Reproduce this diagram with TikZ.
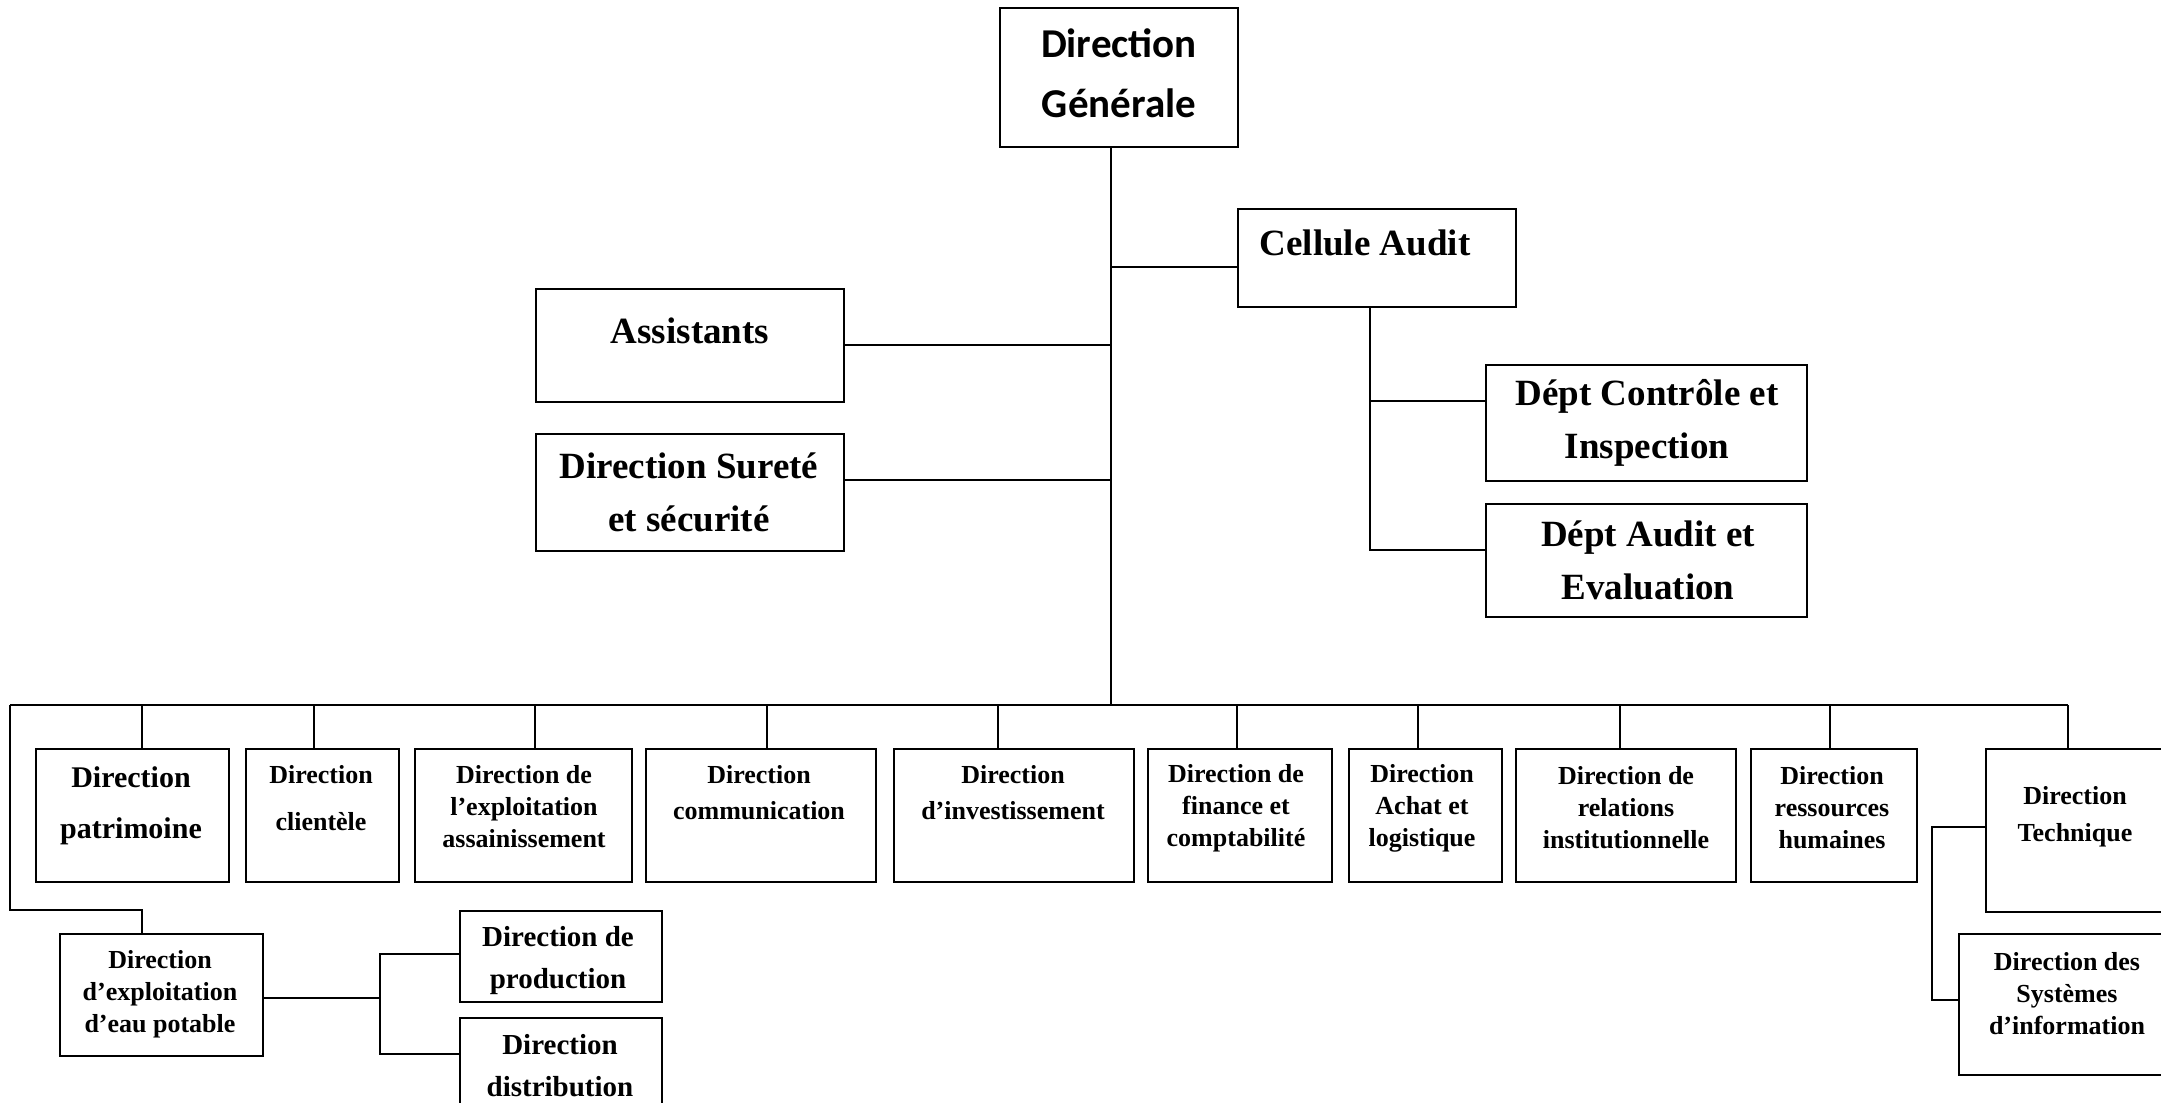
\documentclass[tikz,border=0pt]{standalone}
\usepackage{fontspec}
\setmainfont{Liberation Serif}
\newfontfamily\calfont{Carlito}
\begin{document}
\begin{tikzpicture}[x=1pt,y=-1pt,
  box/.style={draw, line width=2pt, inner sep=0pt, anchor=north west},
  link/.style={line width=1.4pt},
  lbl/.style={inner sep=0pt, align=center, anchor=center},
  big/.style={font=\bfseries\fontsize{37}{53}\selectfont},
  gen/.style={font=\calfont\bfseries\fontsize{41}{60}\selectfont},
  sml/.style={font=\bfseries\fontsize{26}{32}\selectfont},
  mid/.style={font=\bfseries\fontsize{29}{42}\selectfont}]
\useasboundingbox (0,0) rectangle (2161,1103);

% upper part of the chart
\node[box, minimum width=238pt, minimum height=139pt] (dg) at (999,7) {};
\node[box, minimum width=278pt, minimum height=98pt] (ca) at (1237,208) {};
\node[box, minimum width=308pt, minimum height=113pt] (as) at (535,288) {};
\node[box, minimum width=308pt, minimum height=117pt] (ss) at (535,433) {};
\node[box, minimum width=321pt, minimum height=116pt] (dc) at (1485,364) {};
\node[box, minimum width=321pt, minimum height=113pt] (da) at (1485,503) {};

\node[lbl, gen] (dg-t) at (1119,73) {Direction\\Générale};
\node[lbl, big] (ca-t) at (1365,243) {Cellule Audit};
\node[lbl, big] (as-t) at (690,331) {Assistants};
\node[lbl, big] (ss-t) at (689,492) {Direction Sureté\\et sécurité};
\node[lbl, big] (dc-t) at (1647,423) {Dépt Contrôle et\\Inspection};
\node[lbl, big] (da-t) at (1648,560) {Dépt Audit et\\Evaluation};

% row of directions
\foreach \n/\xa/\w in {pat/35/193, cli/245/153, ass/414/217, com/645/230,
    inv/893/240, fin/1147/184, ach/1348/153, rel/1515/220, rh/1750/166}
  \node[box, minimum width=\w pt, minimum height=133pt] (\n) at (\xa,748) {};
\node[box, minimum width=230pt, minimum height=163pt] (tec) at (1985,748) {};
\node[box, minimum width=240pt, minimum height=141pt] (si) at (1958,933) {};
\node[box, minimum width=203pt, minimum height=122pt] (eau) at (59,933) {};
\node[box, minimum width=202pt, minimum height=91pt] (prod) at (459,910) {};
\node[box, minimum width=202pt, minimum height=130pt] (dist) at (459,1017) {};

\node[lbl, font=\bfseries\fontsize{30}{51}\selectfont] (pat-t) at (131,806) {Direction\\patrimoine};
\node[lbl, font=\bfseries\fontsize{26}{47}\selectfont] (cli-t) at (321,798) {Direction\\clientèle};
\node[lbl, sml] (ass-t) at (524,807) {Direction de\\l’exploitation\\assainissement};
\node[lbl, font=\bfseries\fontsize{26}{36}\selectfont] (com-t) at (759,793) {Direction\\communication};
\node[lbl, font=\bfseries\fontsize{26}{36}\selectfont] (inv-t) at (1013,793) {Direction\\d’investissement};
\node[lbl, sml] (fin-t) at (1236,808) {Direction de\\finance et\\comptabilité};
\node[lbl, sml] (ach-t) at (1422,808) {Direction\\Achat et\\logistique};
\node[lbl, sml] (rel-t) at (1626,808) {Direction de\\relations\\institutionnelle};
\node[lbl, sml] (rh-t) at (1832,808) {Direction\\ressources\\humaines};
\node[lbl, font=\bfseries\fontsize{26}{37}\selectfont] (tec-t) at (2075,817) {Direction\\Technique};
\node[lbl, sml] (si-t) at (2067,994) {Direction des\\Systèmes\\d’information};
\node[lbl, sml] (eau-t) at (160,994) {Direction\\d’exploitation\\d’eau potable};
\node[lbl, mid] (prod-t) at (558,961) {Direction de\\production};
\node[lbl, mid] (dist-t) at (560,1066) {Direction\\distribution};

% trunk and branches
\coordinate (bus) at (1111,705);
\coordinate (j-ca) at (1111,267);
\coordinate (j-as) at (1111,345);
\coordinate (j-ss) at (1111,480);
\draw[link] (dg.south -| bus) -- (bus);
\draw[link] (j-ca) -- (ca.west |- j-ca);
\draw[link] (j-as) -- (as.east |- j-as);
\draw[link] (j-ss) -- (ss.east |- j-ss);

\coordinate (a1) at (1370,401);
\coordinate (a2) at (1370,550);
\draw[link] (ca.south -| a2) -- (a2) -- (da.west |- a2);
\draw[link] (a1) -- (dc.west |- a1);

% horizontal bus with its drops
\coordinate (bus-l) at (10,705);
\coordinate (bus-r) at (2068,705);
\draw[link, line width=2pt] (bus-l) -- (bus-r);
\foreach \n/\x in {pat/142, cli/314, ass/535, com/767, inv/998,
    fin/1237, ach/1418, rel/1620, rh/1830, tec/2068} {
  \coordinate (d-\n) at (\x,705);
  \draw[link] (d-\n) -- (\n.north -| d-\n);
}

% water operations branch
\coordinate (l1) at (10,910);
\coordinate (l2) at (142,910);
\draw[link] (bus-l) -- (l1) -- (l2) -- (eau.north -| l2);
\coordinate (e1) at (380,998);
\coordinate (e2) at (380,954);
\coordinate (e3) at (380,1054);
\draw[link] (eau.east |- e1) -- (e1);
\draw[link] (prod.west |- e2) -- (e2) -- (e3) -- (dist.west |- e3);

% technical branch
\coordinate (k1) at (1932,827);
\coordinate (k2) at (1932,1000);
\draw[link] (tec.west |- k1) -- (k1) -- (k2) -- (si.west |- k2);
\end{tikzpicture}
\end{document}
